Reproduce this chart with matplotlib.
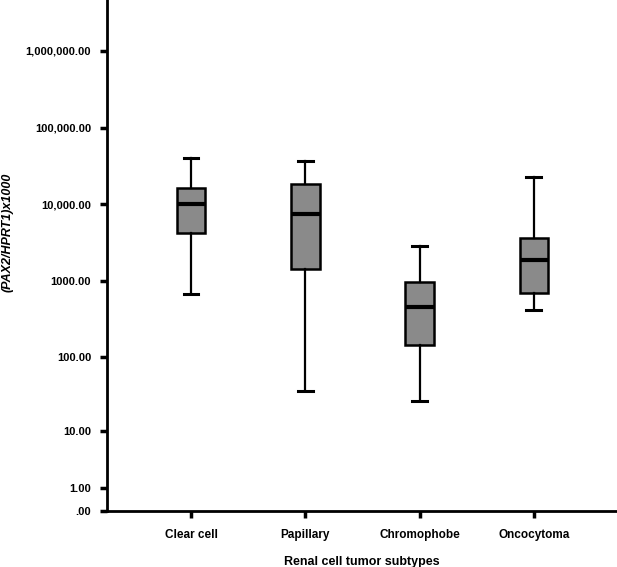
import numpy as np
import matplotlib.pyplot as plt

# Valeurs (PAX2/HPRT1 x1000)
subtypes = ['Clear cell', 'Papillary', 'Chromophobe', 'Oncocytoma']
whisker_low = [682, 36, 26.5, 413]
q1 = [4270, 1420, 145, 690]
medians = [10090, 7410, 461, 1878]
q3 = [16180, 18240, 979, 3600]
whisker_high = [40200, 37070, 2860, 22950]

y_ticks = [0, 1, 10, 100, 1000, 10000, 100000, 1000000]
y_ticklabels = ['.00', '1.00', '10.00', '100.00', '1000.00', '10,000.00', '100,000.00', '1,000,000.00']

plt.rcParams['font.family'] = ['Liberation Sans', 'DejaVu Sans']
plt.rcParams['font.weight'] = 'bold'

fig = plt.figure(figsize=(6.17, 5.67), dpi=100)
ax = fig.add_axes([107 / 617, 56 / 567, 510 / 617, 511 / 567])

stats = []
for i, name in enumerate(subtypes):
    stats.append({'label': name, 'whislo': whisker_low[i], 'q1': q1[i], 'med': medians[i],
                  'q3': q3[i], 'whishi': whisker_high[i], 'fliers': []})

ax.bxp(stats, positions=range(1, 5), widths=0.25, patch_artist=True, showfliers=False,
       boxprops=dict(facecolor='#8a8a8a', edgecolor='black', linewidth=1.8),
       medianprops=dict(color='black', linewidth=3),
       whiskerprops=dict(color='black', linewidth=1.6),
       capprops=dict(color='black', linewidth=2.2), capwidths=0.13)

# échelle log10(x+1) comme dans SPSS
ax.set_yscale('function', functions=(lambda v: np.log10(np.clip(v, 0, None) + 1),
                                     lambda v: 10 ** v - 1))
ax.set_ylim(0, 10 ** (511 / 76.67) - 1)
ax.set_xlim(0.265, 4.727)
ax.set_yticks(y_ticks)
ax.set_yticklabels(y_ticklabels, fontsize=8, fontweight='bold')
ax.minorticks_off()
ax.set_xticks(range(1, 5))
ax.set_xticklabels(subtypes, fontsize=8.5, fontweight='bold')

ax.spines['top'].set_visible(False)
ax.spines['right'].set_visible(False)
ax.spines['left'].set_linewidth(2)
ax.spines['bottom'].set_linewidth(2)
ax.tick_params(axis='both', direction='out', length=5, width=2.5)
ax.tick_params(axis='y', pad=6.5)
ax.tick_params(axis='x', pad=8)

ax.set_xlabel('Renal cell tumor subtypes', fontsize=9, fontweight='bold', labelpad=11)
ax.set_ylabel('(PAX2/HPRT1)x1000', fontsize=9, fontweight='bold', style='italic')
ax.yaxis.set_label_coords(-0.184, 0.546)

plt.savefig('out.png', dpi=100)
